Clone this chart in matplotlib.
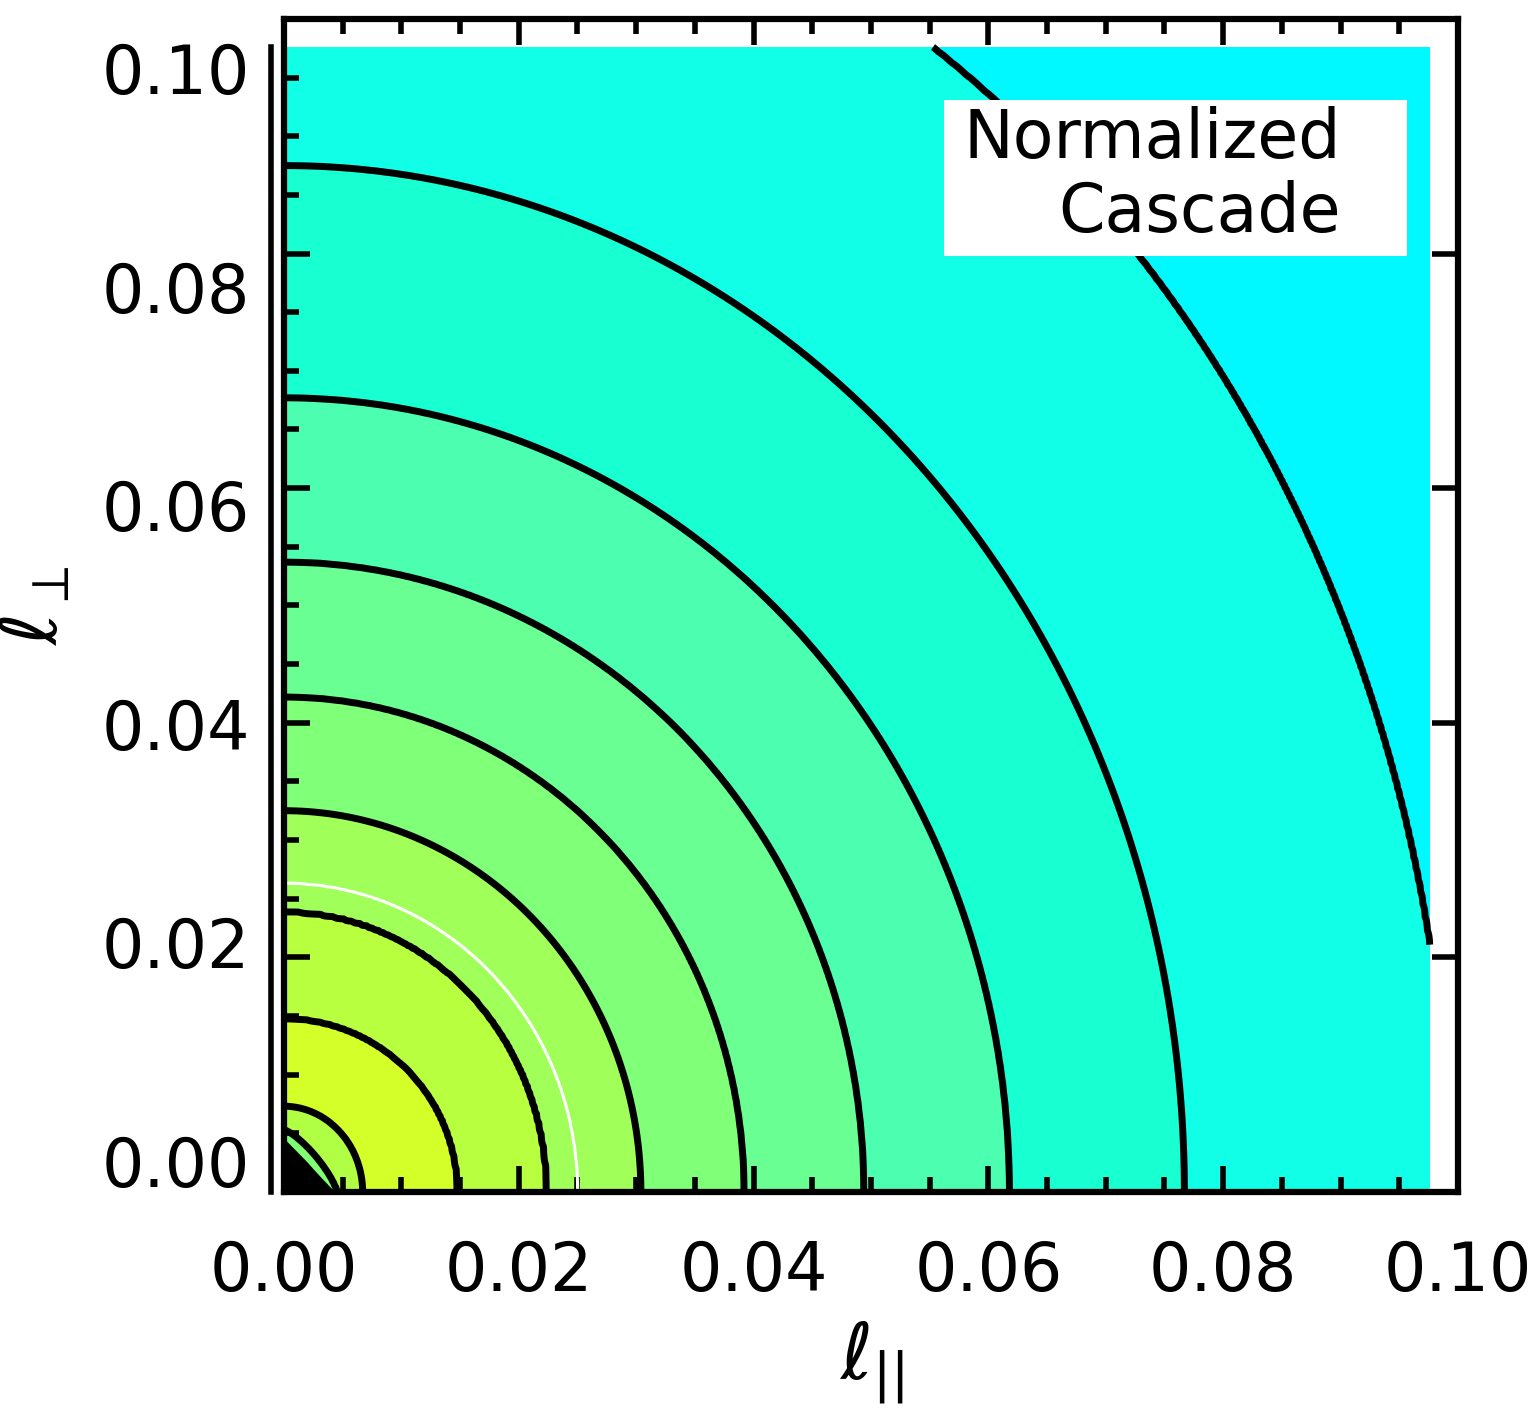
import numpy as np
import matplotlib
matplotlib.use('Agg')
import matplotlib.pyplot as plt
from matplotlib.patches import Rectangle
from matplotlib.transforms import ScaledTranslation
from matplotlib.ticker import MultipleLocator, FixedLocator, NullFormatter

# contour crossings, innermost first
# (where each contour meets the l_par axis and the l_perp axis)
cross_par = [0.0040, 0.0045, 0.0067, 0.0148, 0.0224, 0.0250, 0.0304,
             0.0392, 0.0494, 0.0618, 0.0767, 0.0992]
cross_perp = [0.0042, 0.0053, 0.0073, 0.0148, 0.0239, 0.0263, 0.0325,
              0.0422, 0.0537, 0.0677, 0.0875, 0.1175]
# shape of each contour: 1 = straight diamond, 2 = ellipse
cross_shape = [1.0, 1.3, 2, 2, 2, 2, 2, 2, 2, 2, 2, 2]

# fill colour of each band, inside out
band_colors = ['black', '#80ff70', '#b0ff44', '#d4ff28', '#b8ff40', '#a0ff58',
               '#a0ff58', '#80ff78', '#6aff92', '#4cffb0', '#18ffd2', '#10ffe6',
               '#00f8ff']
line_colors = ['black'] * 5 + ['white'] + ['black'] * 6
line_widths = [5] * 5 + [2.2] + [5] * 6

tick_vals = [0.00, 0.02, 0.04, 0.06, 0.08, 0.10]
tick_text = ['0.00', '0.02', '0.04', '0.06', '0.08', '0.10']

grid_max = 0.0976


def band_index(X, Y):
    # fractional contour index of each grid point
    R = np.array([((X / a) ** p + (Y / b) ** p) ** (1.0 / p)
                  for a, b, p in zip(cross_par, cross_perp, cross_shape)])
    K = len(R)
    n = (R > 1).sum(axis=0)
    lo = np.clip(n - 1, 0, K - 1)
    hi = np.clip(n, 0, K - 1)
    r_lo = np.take_along_axis(R, lo[None], 0)[0]
    r_hi = np.take_along_axis(R, hi[None], 0)[0]
    with np.errstate(divide='ignore', invalid='ignore'):
        mid = (n - 1) + (r_lo - 1) / (r_lo - r_hi)
    t = np.where(n == 0, R[0] - 1, np.where(n == K, K - 1 + (R[-1] - 1), mid))
    return t


def main():
    plt.rcParams['font.family'] = 'DejaVu Sans'
    plt.rcParams['mathtext.fontset'] = 'dejavusans'

    fig = plt.figure(figsize=(15.4, 14.21), dpi=100)
    ax = fig.add_axes([0.1844, 0.1612, 0.7623, 0.8255])

    g = np.linspace(0, grid_max, 500)
    X, Y = np.meshgrid(g, g)
    t = band_index(X, Y)
    K = len(cross_par)

    levels = [-5] + list(range(K)) + [K + 50]
    ax.contourf(X, Y, t, levels=levels, colors=band_colors)
    ax.contour(X, Y, t, levels=list(range(K)), colors=line_colors,
               linewidths=line_widths)

    ax.add_patch(Rectangle((0.0562, 0.0798), 0.0395, 0.0133,
                           facecolor='white', edgecolor='none', zorder=3))
    ax.text(0.0900, 0.0866, 'Normalized\nCascade', ha='right', va='center',
            multialignment='right', fontsize=48, zorder=4, linespacing=1.15)

    # doubled left axis line of the original plot
    ax.axvline(-0.0011, 0, grid_max / 0.1, color='black', lw=4,
               clip_on=False)

    ax.set_xlim(0, 0.1)
    ax.set_ylim(0, 0.1)
    ax.xaxis.set_major_locator(FixedLocator(tick_vals))
    ax.set_xticklabels(tick_text)
    ax.yaxis.set_major_locator(FixedLocator(tick_vals))
    ax.yaxis.set_major_formatter(NullFormatter())
    for axis in (ax.xaxis, ax.yaxis):
        axis.set_minor_locator(MultipleLocator(0.005))

    ax.tick_params(which='both', direction='in', top=True, right=True,
                   width=4, colors='black')
    ax.tick_params(which='major', length=19, labelsize=48)
    ax.tick_params(which='minor', length=11)
    ax.tick_params(axis='y', which='minor', right=False)
    ax.tick_params(axis='x', pad=34)

    # y labels sit a little lower than their ticks in the original
    for v, s in zip(tick_vals, tick_text):
        shift = (-24 + 800 * v) / 100.0
        tr = ax.get_yaxis_transform() + ScaledTranslation(
            -0.34, -shift, fig.dpi_scale_trans)
        ax.text(0, v, s, transform=tr, ha='right', va='center', fontsize=48)

    for s in ax.spines.values():
        s.set_linewidth(4.5)

    ax.set_xlabel(r'$\ell_{||}$', fontsize=56, labelpad=10)
    ax.set_ylabel(r'$\ell_{\perp}$', fontsize=56, labelpad=148)

    fig.savefig('out.png', dpi=100)
    plt.close(fig)


if __name__ == '__main__':
    main()
